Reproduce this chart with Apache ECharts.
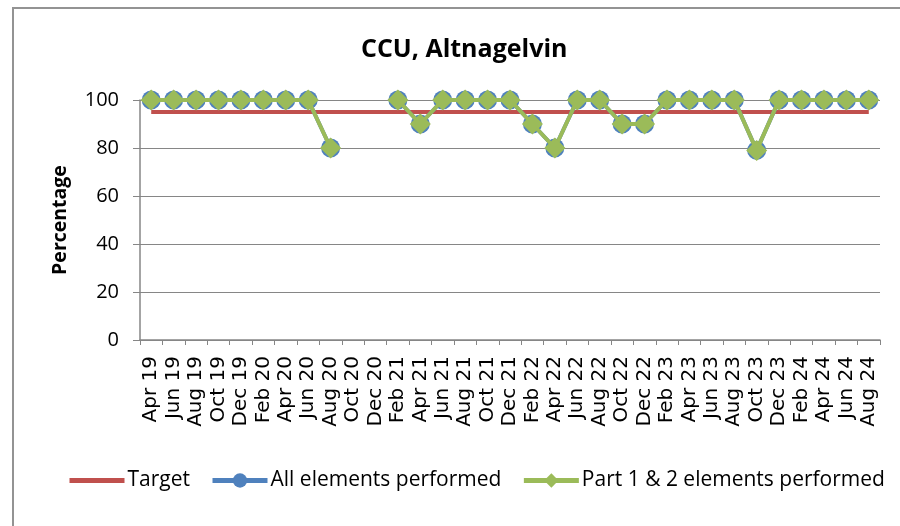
<!DOCTYPE html>
<html>
<head>
<meta charset="utf-8">
<script src="https://cdn.jsdelivr.net/npm/echarts@6/dist/echarts.min.js"></script>
<style>
  html, body { margin: 0; padding: 0; background: #fff; }
  #chart { width: 900px; height: 526px; }
</style>
</head>
<body>
<div id="chart"></div>
<script>
var months = ['Apr 19','Jun 19','Aug 19','Oct 19','Dec 19','Feb 20','Apr 20','Jun 20','Aug 20','Oct 20','Dec 20',
  'Feb 21','Apr 21','Jun 21','Aug 21','Oct 21','Dec 21','Feb 22','Apr 22','Jun 22','Aug 22','Oct 22','Dec 22',
  'Feb 23','Apr 23','Jun 23','Aug 23','Oct 23','Dec 23','Feb 24','Apr 24','Jun 24','Aug 24'];
var target = months.map(function () { return 95; });
var allElements = [100,100,100,100,100,100,100,100,80,null,null,
  100,90,100,100,100,100,90,80,100,100,90,90,
  100,100,100,100,79,100,100,100,100,100];
var part12 = [100,100,100,100,100,100,100,100,80,null,null,
  100,90,100,100,100,100,90,80,100,100,90,90,
  100,100,100,100,79,100,100,100,100,100];

var myChart = echarts.init(document.getElementById('chart'));
var option = {
  animation: false,
  title: {
    text: 'CCU, Altnagelvin',
    left: 361,
    top: 37,
    padding: 0,
    textStyle: { fontFamily: 'Open Sans', fontWeight: 'bold', fontSize: 25, color: '#000' }
  },
  graphic: [{
    type: 'rect',
    shape: { x: 13, y: 8, width: 920, height: 560 },
    style: { fill: null, stroke: '#939393', lineWidth: 2 },
    silent: true
  }],
  legend: {
    top: 470,
    left: 67,
    itemWidth: 55,
    itemHeight: 18,
    itemGap: 20,
    padding: 0,
    lineStyle: { width: 5 },
    textStyle: { fontFamily: 'Open Sans', fontSize: 21, color: '#000', padding: [0, 0, 0, -2] },
    data: [
      { name: 'Target', itemStyle: { opacity: 0 } },
      'All elements performed',
      'Part 1 & 2 elements performed'
    ]
  },
  grid: { left: 140, right: 20, top: 100, bottom: 186 },
  xAxis: {
    type: 'category',
    data: months,
    boundaryGap: true,
    axisLine: { lineStyle: { color: '#868686', width: 1.5 } },
    axisTick: { show: true, length: 5, lineStyle: { color: '#868686' } },
    axisLabel: { rotate: 90, interval: 0, fontFamily: 'DejaVu Sans', fontSize: 20, color: '#000', margin: 16 }
  },
  yAxis: {
    type: 'value',
    min: 0,
    max: 100,
    interval: 20,
    name: 'Percentage',
    nameLocation: 'middle',
    nameGap: 70,
    nameTextStyle: { fontFamily: 'Open Sans', fontWeight: 'bold', fontSize: 19.5, color: '#000' },
    axisLine: { show: true, lineStyle: { color: '#868686', width: 1.5 } },
    axisTick: { show: true, length: 7, lineStyle: { color: '#868686' } },
    axisLabel: { fontFamily: 'Open Sans', fontSize: 20, color: '#000', margin: 21 },
    splitLine: { lineStyle: { color: '#868686', width: 1 } }
  },
  series: [
    {
      name: 'Target',
      type: 'line',
      data: target,
      symbol: 'none',
      lineStyle: { color: '#C0504D', width: 4 },
      itemStyle: { color: '#C0504D' },
      z: 2
    },
    {
      name: 'All elements performed',
      type: 'line',
      data: allElements,
      symbol: 'circle',
      symbolSize: 19,
      connectNulls: false,
      lineStyle: { color: '#4F81BD', width: 4 },
      itemStyle: { color: '#4F81BD' },
      z: 3
    },
    {
      name: 'Part 1 & 2 elements performed',
      type: 'line',
      data: part12,
      symbol: 'diamond',
      symbolSize: 21,
      connectNulls: false,
      lineStyle: { color: '#9BBB59', width: 4 },
      itemStyle: { color: '#9BBB59' },
      z: 4
    }
  ]
};
myChart.setOption(option);
</script>
</body>
</html>
